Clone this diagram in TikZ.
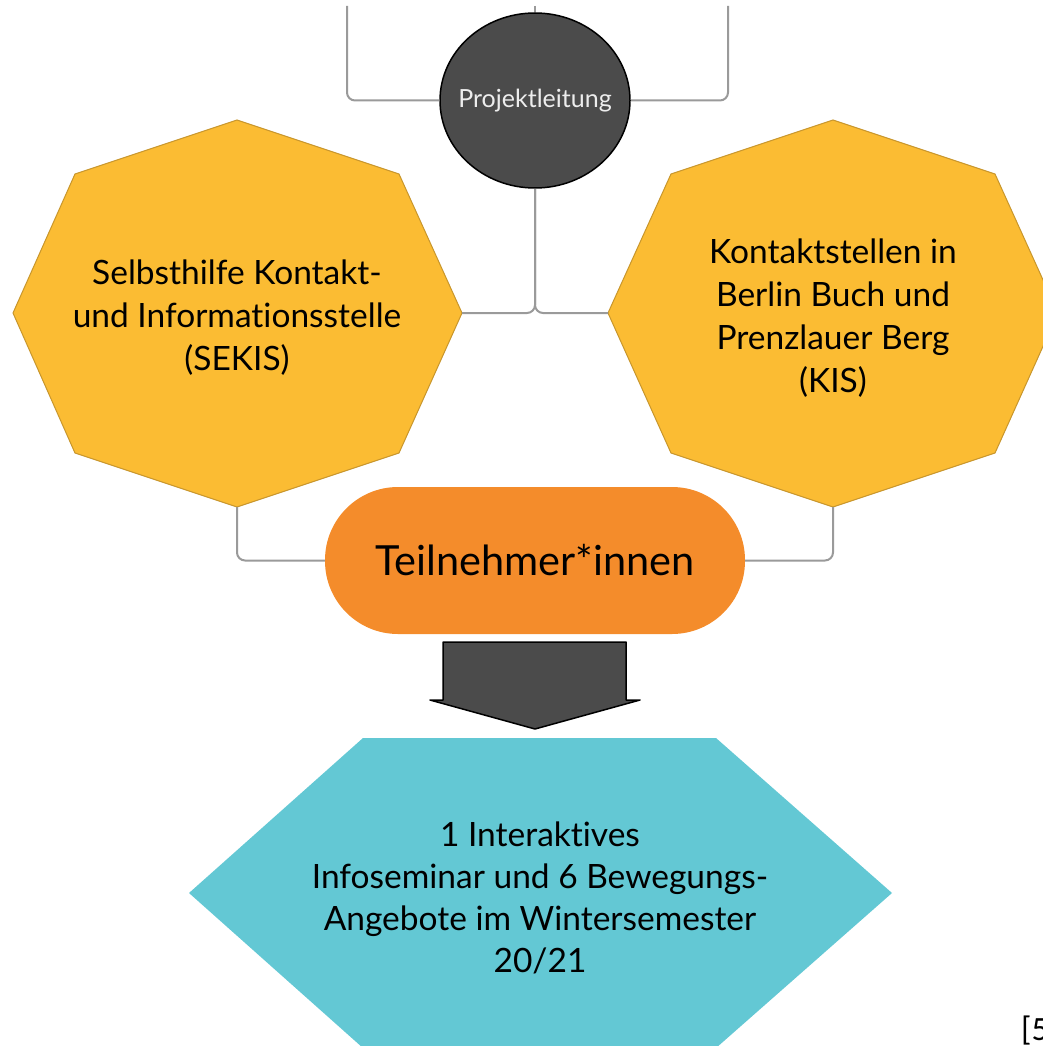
\documentclass[tikz,border=0pt]{standalone}
\usepackage{fontspec}
\setmainfont{Lato}[Ligatures=NoCommon]
\newfontfamily\notefont{Carlito}
\usepackage{tikz}
\usetikzlibrary{shapes.geometric}
\usepackage{xcolor}
\definecolor{octyellow}{HTML}{FBBC33}
\definecolor{octborder}{HTML}{C8962C}
\definecolor{pillorange}{HTML}{F48C2B}
\definecolor{hexcyan}{HTML}{63C8D4}
\definecolor{leaddark}{HTML}{4B4B4B}
\definecolor{linkgray}{HTML}{9A9A9A}

\begin{document}
\begin{tikzpicture}[x=1pt, y=1pt,
    link/.style={draw=linkgray, line width=2pt, rounded corners=8pt},
    octa/.style={fill=octyellow, draw=octborder, line width=1pt},
    boxtext/.style={align=center, font=\fontsize{33.5}{43}\selectfont}]
    \useasboundingbox (0,0) rectangle (1043,-1046);
    \clip (0,0) rectangle (1043,-1046);
    % Octogonos
    \filldraw[octa] (237,-120) -- (399,-174) -- (462,-313) -- (399,-453) -- (237,-507) -- (75,-453) -- (13,-313) -- (75,-174) -- cycle;
    \filldraw[octa] (833,-120) -- (995,-174) -- (1058,-313) -- (995,-453) -- (833,-507) -- (671,-453) -- (608,-313) -- (671,-174) -- cycle;
    \node[boxtext] (sekis) at (237,-318) {Selbsthilfe Kontakt-\\und Informationsstelle\\(SEKIS)};
    \node[boxtext] (kis) at (833,-318) {Kontaktstellen in\\Berlin Buch und\\Prenzlauer Berg\\(KIS)};
    \coordinate (sekis-e) at (462,-313);
    \coordinate (sekis-s) at (237,-507);
    \coordinate (kis-w) at (608,-313);
    \coordinate (kis-s) at (833,-507);
    % Projektleitung
    \node[ellipse, fill=leaddark, draw=black, line width=1.5pt, minimum width=190, minimum height=175,
          label={[text=white!93!black, font=\fontsize{25}{30}\selectfont]center:Projektleitung}] (lead) at (535,-100.5) {};
    \node[fill=pillorange, rounded corners=73, minimum width=420, minimum height=147,
          font=\fontsize{41.5}{48}\selectfont] (tn) at (535,-560.5) {Teilnehmer*innen};
    % Linhas
    \coordinate (top-l) at (347,-6);
    \coordinate (top-m) at (535,-6);
    \coordinate (top-r) at (728,-6);
    \draw[link] (top-l) |- (lead);
    \draw[link] (top-m) -- (lead);
    \draw[link] (top-r) |- (lead);
    \draw[link] (lead) |- (sekis-e);
    \draw[link] (lead) |- (kis-w);
    \draw[link] (sekis-s) |- (tn);
    \draw[link] (kis-s) |- (tn);
    % Seta
    \filldraw[fill=leaddark, draw=black, line width=1.5pt, line join=round]
        (443,-642) -- (626,-642) -- (626,-700) -- (640,-700) -- (535,-729) -- (430,-700) -- (443,-700) -- cycle;
    % Hexagono
    \fill[hexcyan] (363,-738) -- (716,-738) -- (892,-893) -- (716,-1048) -- (363,-1048) -- (189,-893) -- cycle;
    \node[boxtext, font=\fontsize{33.5}{42}\selectfont] (offer) at (540,-898)
        {1 Interaktives\\Infoseminar und 6 Bewegungs-\\Angebote im Wintersemester\\20/21};
    \node[anchor=north west, inner sep=0, font=\notefont\fontsize{34}{40}\selectfont] (ref) at (1021,-1016) {[5};
\end{tikzpicture}
\end{document}
